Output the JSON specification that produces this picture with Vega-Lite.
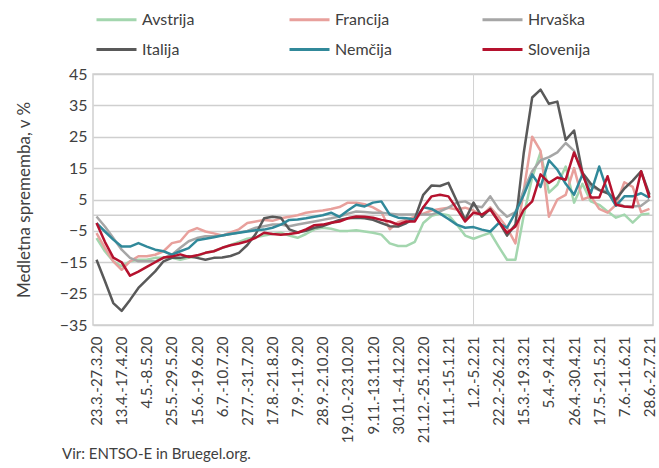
{
"$schema":"https://vega.github.io/schema/vega-lite/v6.json",
"width":560,"height":251,
"autosize":{"type":"none"},
"padding":{"left":93,"top":74,"right":6,"bottom":143},
"background":"white",
"config":{"font":"Lato","view":{"stroke":"#cfcfcf","strokeWidth":1.5}},
"title":{"text":"Vir: ENTSO-E in Bruegel.org.","orient":"bottom","anchor":"start","frame":"group","dx":-31,"offset":4,"fontSize":15,"fontWeight":"normal","color":"#404040"},
"data":{"values":[
{"w":"23.3.-27.3.20","s":"Avstrija","v":-7.3},{"w":"30.3.-3.4.20","s":"Avstrija","v":-11.5},{"w":"6.4.-10.4.20","s":"Avstrija","v":-14.7},{"w":"13.4.-17.4.20","s":"Avstrija","v":-16.3},{"w":"20.4.-24.4.20","s":"Avstrija","v":-14.7},{"w":"27.4.-1.5.20","s":"Avstrija","v":-14.2},{"w":"4.5.-8.5.20","s":"Avstrija","v":-14.2},{"w":"11.5.-15.5.20","s":"Avstrija","v":-13.6},{"w":"18.5.-22.5.20","s":"Avstrija","v":-13.6},{"w":"25.5.-29.5.20","s":"Avstrija","v":-13.6},
{"w":"1.6.-5.6.20","s":"Avstrija","v":-14.2},{"w":"8.6.-12.6.20","s":"Avstrija","v":-13.6},{"w":"15.6.-19.6.20","s":"Avstrija","v":-13.1},{"w":"22.6.-26.6.20","s":"Avstrija","v":-12},{"w":"29.6.-3.7.20","s":"Avstrija","v":-11.5},{"w":"6.7.-10.7.20","s":"Avstrija","v":-10.4},{"w":"13.7.-17.7.20","s":"Avstrija","v":-9.5},{"w":"20.7.-24.7.20","s":"Avstrija","v":-8.5},{"w":"27.7.-31.7.20","s":"Avstrija","v":-7.5},{"w":"3.8.-7.8.20","s":"Avstrija","v":-7},
{"w":"10.8.-14.8.20","s":"Avstrija","v":-6.5},{"w":"17.8.-21.8.20","s":"Avstrija","v":-6},{"w":"24.8.-28.8.20","s":"Avstrija","v":-5.6},{"w":"31.8.-4.9.20","s":"Avstrija","v":-6.5},{"w":"7.9.-11.9.20","s":"Avstrija","v":-7.2},{"w":"14.9.-18.9.20","s":"Avstrija","v":-6},{"w":"21.9.-25.9.20","s":"Avstrija","v":-4.5},{"w":"28.9.-2.10.20","s":"Avstrija","v":-4},{"w":"5.10.-9.10.20","s":"Avstrija","v":-4.3},{"w":"12.10.-16.10.20","s":"Avstrija","v":-5},
{"w":"19.10.-23.10.20","s":"Avstrija","v":-5},{"w":"26.10.-30.10.20","s":"Avstrija","v":-4.8},{"w":"2.11.-6.11.20","s":"Avstrija","v":-5.2},{"w":"9.11.-13.11.20","s":"Avstrija","v":-5.6},{"w":"16.11.-20.11.20","s":"Avstrija","v":-6.2},{"w":"23.11.-27.11.20","s":"Avstrija","v":-9},{"w":"30.11.-4.12.20","s":"Avstrija","v":-9.8},{"w":"7.12.-11.12.20","s":"Avstrija","v":-9.8},{"w":"14.12.-18.12.20","s":"Avstrija","v":-8.5},{"w":"21.12.-25.12.20","s":"Avstrija","v":-2.5},
{"w":"28.12.-1.1.21","s":"Avstrija","v":-0.2},{"w":"4.1.-8.1.21","s":"Avstrija","v":0.5},{"w":"11.1.-15.1.21","s":"Avstrija","v":0},{"w":"18.1.-22.1.21","s":"Avstrija","v":-3},{"w":"25.1.-29.1.21","s":"Avstrija","v":-6.5},{"w":"1.2.-5.2.21","s":"Avstrija","v":-7.5},{"w":"8.2.-12.2.21","s":"Avstrija","v":-6.5},{"w":"15.2.-19.2.21","s":"Avstrija","v":-5.6},{"w":"22.2.-26.2.21","s":"Avstrija","v":-10},{"w":"1.3.-5.3.21","s":"Avstrija","v":-14.2},
{"w":"8.3.-12.3.21","s":"Avstrija","v":-14.2},{"w":"15.3.-19.3.21","s":"Avstrija","v":0},{"w":"22.3.-26.3.21","s":"Avstrija","v":12},{"w":"29.3.-2.4.21","s":"Avstrija","v":20},{"w":"5.4.-9.4.21","s":"Avstrija","v":7.2},{"w":"12.4.-16.4.21","s":"Avstrija","v":9.7},{"w":"19.4.-23.4.21","s":"Avstrija","v":15.5},{"w":"26.4.-30.4.21","s":"Avstrija","v":4},{"w":"3.5.-7.5.21","s":"Avstrija","v":10},{"w":"10.5.-14.5.21","s":"Avstrija","v":4.4},
{"w":"17.5.-21.5.21","s":"Avstrija","v":3.3},{"w":"24.5.-28.5.21","s":"Avstrija","v":1.2},{"w":"31.5.-4.6.21","s":"Avstrija","v":-0.8},{"w":"7.6.-11.6.21","s":"Avstrija","v":0.2},{"w":"14.6.-18.6.21","s":"Avstrija","v":-2.4},{"w":"21.6.-25.6.21","s":"Avstrija","v":0.2},{"w":"28.6.-2.7.21","s":"Avstrija","v":0.5},

{"w":"23.3.-27.3.20","s":"Francija","v":-5.7},{"w":"30.3.-3.4.20","s":"Francija","v":-10.4},{"w":"6.4.-10.4.20","s":"Francija","v":-14.7},{"w":"13.4.-17.4.20","s":"Francija","v":-17.4},{"w":"20.4.-24.4.20","s":"Francija","v":-14.7},{"w":"27.4.-1.5.20","s":"Francija","v":-13.1},{"w":"4.5.-8.5.20","s":"Francija","v":-13.1},{"w":"11.5.-15.5.20","s":"Francija","v":-12.6},{"w":"18.5.-22.5.20","s":"Francija","v":-11.5},{"w":"25.5.-29.5.20","s":"Francija","v":-8.9},
{"w":"1.6.-5.6.20","s":"Francija","v":-8.3},{"w":"8.6.-12.6.20","s":"Francija","v":-5.2},{"w":"15.6.-19.6.20","s":"Francija","v":-4.1},{"w":"22.6.-26.6.20","s":"Francija","v":-5.2},{"w":"29.6.-3.7.20","s":"Francija","v":-5.8},{"w":"6.7.-10.7.20","s":"Francija","v":-6.5},{"w":"13.7.-17.7.20","s":"Francija","v":-5.5},{"w":"20.7.-24.7.20","s":"Francija","v":-4.5},{"w":"27.7.-31.7.20","s":"Francija","v":-2.5},{"w":"3.8.-7.8.20","s":"Francija","v":-2},
{"w":"10.8.-14.8.20","s":"Francija","v":-1.5},{"w":"17.8.-21.8.20","s":"Francija","v":-1.8},{"w":"24.8.-28.8.20","s":"Francija","v":-1},{"w":"31.8.-4.9.20","s":"Francija","v":-0.5},{"w":"7.9.-11.9.20","s":"Francija","v":0},{"w":"14.9.-18.9.20","s":"Francija","v":0.8},{"w":"21.9.-25.9.20","s":"Francija","v":1.2},{"w":"28.9.-2.10.20","s":"Francija","v":1.5},{"w":"5.10.-9.10.20","s":"Francija","v":2},{"w":"12.10.-16.10.20","s":"Francija","v":2.6},
{"w":"19.10.-23.10.20","s":"Francija","v":4},{"w":"26.10.-30.10.20","s":"Francija","v":4},{"w":"2.11.-6.11.20","s":"Francija","v":3.5},{"w":"9.11.-13.11.20","s":"Francija","v":2.5},{"w":"16.11.-20.11.20","s":"Francija","v":1},{"w":"23.11.-27.11.20","s":"Francija","v":-4.5},{"w":"30.11.-4.12.20","s":"Francija","v":-2.2},{"w":"7.12.-11.12.20","s":"Francija","v":-1.4},{"w":"14.12.-18.12.20","s":"Francija","v":-0.5},{"w":"21.12.-25.12.20","s":"Francija","v":0.5},
{"w":"28.12.-1.1.21","s":"Francija","v":1.5},{"w":"4.1.-8.1.21","s":"Francija","v":2},{"w":"11.1.-15.1.21","s":"Francija","v":2.4},{"w":"18.1.-22.1.21","s":"Francija","v":1.8},{"w":"25.1.-29.1.21","s":"Francija","v":2.4},{"w":"1.2.-5.2.21","s":"Francija","v":1.5},{"w":"8.2.-12.2.21","s":"Francija","v":0},{"w":"15.2.-19.2.21","s":"Francija","v":2.5},{"w":"22.2.-26.2.21","s":"Francija","v":-0.5},{"w":"1.3.-5.3.21","s":"Francija","v":-4},
{"w":"8.3.-12.3.21","s":"Francija","v":-9},{"w":"15.3.-19.3.21","s":"Francija","v":8},{"w":"22.3.-26.3.21","s":"Francija","v":25},{"w":"29.3.-2.4.21","s":"Francija","v":20.5},{"w":"5.4.-9.4.21","s":"Francija","v":-0.5},{"w":"12.4.-16.4.21","s":"Francija","v":5},{"w":"19.4.-23.4.21","s":"Francija","v":6.5},{"w":"26.4.-30.4.21","s":"Francija","v":15},{"w":"3.5.-7.5.21","s":"Francija","v":5},{"w":"10.5.-14.5.21","s":"Francija","v":6},
{"w":"17.5.-21.5.21","s":"Francija","v":2},{"w":"24.5.-28.5.21","s":"Francija","v":0.8},{"w":"31.5.-4.6.21","s":"Francija","v":3.3},{"w":"7.6.-11.6.21","s":"Francija","v":10.5},{"w":"14.6.-18.6.21","s":"Francija","v":9},{"w":"21.6.-25.6.21","s":"Francija","v":1},{"w":"28.6.-2.7.21","s":"Francija","v":2},

{"w":"23.3.-27.3.20","s":"Hrvaška","v":-0.4},{"w":"30.3.-3.4.20","s":"Hrvaška","v":-3.6},{"w":"6.4.-10.4.20","s":"Hrvaška","v":-7.3},{"w":"13.4.-17.4.20","s":"Hrvaška","v":-11},{"w":"20.4.-24.4.20","s":"Hrvaška","v":-13.6},{"w":"27.4.-1.5.20","s":"Hrvaška","v":-14.7},{"w":"4.5.-8.5.20","s":"Hrvaška","v":-14.7},{"w":"11.5.-15.5.20","s":"Hrvaška","v":-14.7},{"w":"18.5.-22.5.20","s":"Hrvaška","v":-13.6},{"w":"25.5.-29.5.20","s":"Hrvaška","v":-12.6},
{"w":"1.6.-5.6.20","s":"Hrvaška","v":-10.4},{"w":"8.6.-12.6.20","s":"Hrvaška","v":-8.3},{"w":"15.6.-19.6.20","s":"Hrvaška","v":-7.3},{"w":"22.6.-26.6.20","s":"Hrvaška","v":-6.7},{"w":"29.6.-3.7.20","s":"Hrvaška","v":-6.7},{"w":"6.7.-10.7.20","s":"Hrvaška","v":-6.5},{"w":"13.7.-17.7.20","s":"Hrvaška","v":-6},{"w":"20.7.-24.7.20","s":"Hrvaška","v":-5.5},{"w":"27.7.-31.7.20","s":"Hrvaška","v":-5},{"w":"3.8.-7.8.20","s":"Hrvaška","v":-4},
{"w":"10.8.-14.8.20","s":"Hrvaška","v":-3.5},{"w":"17.8.-21.8.20","s":"Hrvaška","v":-3},{"w":"24.8.-28.8.20","s":"Hrvaška","v":-3},{"w":"31.8.-4.9.20","s":"Hrvaška","v":-3.5},{"w":"7.9.-11.9.20","s":"Hrvaška","v":-3},{"w":"14.9.-18.9.20","s":"Hrvaška","v":-2.5},{"w":"21.9.-25.9.20","s":"Hrvaška","v":-2},{"w":"28.9.-2.10.20","s":"Hrvaška","v":-1.5},{"w":"5.10.-9.10.20","s":"Hrvaška","v":-1},{"w":"12.10.-16.10.20","s":"Hrvaška","v":-0.4},
{"w":"19.10.-23.10.20","s":"Hrvaška","v":0.5},{"w":"26.10.-30.10.20","s":"Hrvaška","v":1.2},{"w":"2.11.-6.11.20","s":"Hrvaška","v":1},{"w":"9.11.-13.11.20","s":"Hrvaška","v":0.8},{"w":"16.11.-20.11.20","s":"Hrvaška","v":0.8},{"w":"23.11.-27.11.20","s":"Hrvaška","v":0.5},{"w":"30.11.-4.12.20","s":"Hrvaška","v":0.2},{"w":"7.12.-11.12.20","s":"Hrvaška","v":0.2},{"w":"14.12.-18.12.20","s":"Hrvaška","v":0.2},{"w":"21.12.-25.12.20","s":"Hrvaška","v":0.2},
{"w":"28.12.-1.1.21","s":"Hrvaška","v":0.2},{"w":"4.1.-8.1.21","s":"Hrvaška","v":1.2},{"w":"11.1.-15.1.21","s":"Hrvaška","v":2.4},{"w":"18.1.-22.1.21","s":"Hrvaška","v":4},{"w":"25.1.-29.1.21","s":"Hrvaška","v":4.4},{"w":"1.2.-5.2.21","s":"Hrvaška","v":3},{"w":"8.2.-12.2.21","s":"Hrvaška","v":2.5},{"w":"15.2.-19.2.21","s":"Hrvaška","v":6},{"w":"22.2.-26.2.21","s":"Hrvaška","v":2},{"w":"1.3.-5.3.21","s":"Hrvaška","v":-0.5},
{"w":"8.3.-12.3.21","s":"Hrvaška","v":1},{"w":"15.3.-19.3.21","s":"Hrvaška","v":8},{"w":"22.3.-26.3.21","s":"Hrvaška","v":14},{"w":"29.3.-2.4.21","s":"Hrvaška","v":17.5},{"w":"5.4.-9.4.21","s":"Hrvaška","v":18.5},{"w":"12.4.-16.4.21","s":"Hrvaška","v":20},{"w":"19.4.-23.4.21","s":"Hrvaška","v":23},{"w":"26.4.-30.4.21","s":"Hrvaška","v":20.5},{"w":"3.5.-7.5.21","s":"Hrvaška","v":12.5},{"w":"10.5.-14.5.21","s":"Hrvaška","v":9.2},
{"w":"17.5.-21.5.21","s":"Hrvaška","v":8},{"w":"24.5.-28.5.21","s":"Hrvaška","v":7.6},{"w":"31.5.-4.6.21","s":"Hrvaška","v":4},{"w":"7.6.-11.6.21","s":"Hrvaška","v":2.8},{"w":"14.6.-18.6.21","s":"Hrvaška","v":2.8},{"w":"21.6.-25.6.21","s":"Hrvaška","v":3},{"w":"28.6.-2.7.21","s":"Hrvaška","v":5},

{"w":"23.3.-27.3.20","s":"Italija","v":-14.2},{"w":"30.3.-3.4.20","s":"Italija","v":-21},{"w":"6.4.-10.4.20","s":"Italija","v":-28},{"w":"13.4.-17.4.20","s":"Italija","v":-30.5},{"w":"20.4.-24.4.20","s":"Italija","v":-27},{"w":"27.4.-1.5.20","s":"Italija","v":-23.2},{"w":"4.5.-8.5.20","s":"Italija","v":-20.5},{"w":"11.5.-15.5.20","s":"Italija","v":-17.9},{"w":"18.5.-22.5.20","s":"Italija","v":-14.7},{"w":"25.5.-29.5.20","s":"Italija","v":-13.6},
{"w":"1.6.-5.6.20","s":"Italija","v":-13.6},{"w":"8.6.-12.6.20","s":"Italija","v":-13.1},{"w":"15.6.-19.6.20","s":"Italija","v":-13.6},{"w":"22.6.-26.6.20","s":"Italija","v":-14.2},{"w":"29.6.-3.7.20","s":"Italija","v":-13.6},{"w":"6.7.-10.7.20","s":"Italija","v":-13.5},{"w":"13.7.-17.7.20","s":"Italija","v":-13},{"w":"20.7.-24.7.20","s":"Italija","v":-12},{"w":"27.7.-31.7.20","s":"Italija","v":-9.5},{"w":"3.8.-7.8.20","s":"Italija","v":-6},
{"w":"10.8.-14.8.20","s":"Italija","v":-1},{"w":"17.8.-21.8.20","s":"Italija","v":-0.5},{"w":"24.8.-28.8.20","s":"Italija","v":-0.8},{"w":"31.8.-4.9.20","s":"Italija","v":-4.5},{"w":"7.9.-11.9.20","s":"Italija","v":-5.5},{"w":"14.9.-18.9.20","s":"Italija","v":-5},{"w":"21.9.-25.9.20","s":"Italija","v":-4},{"w":"28.9.-2.10.20","s":"Italija","v":-3.5},{"w":"5.10.-9.10.20","s":"Italija","v":-2.5},{"w":"12.10.-16.10.20","s":"Italija","v":-1.5},
{"w":"19.10.-23.10.20","s":"Italija","v":-1},{"w":"26.10.-30.10.20","s":"Italija","v":-0.8},{"w":"2.11.-6.11.20","s":"Italija","v":-1},{"w":"9.11.-13.11.20","s":"Italija","v":-1.5},{"w":"16.11.-20.11.20","s":"Italija","v":-2.5},{"w":"23.11.-27.11.20","s":"Italija","v":-3.5},{"w":"30.11.-4.12.20","s":"Italija","v":-3.6},{"w":"7.12.-11.12.20","s":"Italija","v":-2.5},{"w":"14.12.-18.12.20","s":"Italija","v":-1},{"w":"21.12.-25.12.20","s":"Italija","v":6.5},
{"w":"28.12.-1.1.21","s":"Italija","v":9.5},{"w":"4.1.-8.1.21","s":"Italija","v":9.3},{"w":"11.1.-15.1.21","s":"Italija","v":10.3},{"w":"18.1.-22.1.21","s":"Italija","v":4.5},{"w":"25.1.-29.1.21","s":"Italija","v":-1.5},{"w":"1.2.-5.2.21","s":"Italija","v":4},{"w":"8.2.-12.2.21","s":"Italija","v":-0.5},{"w":"15.2.-19.2.21","s":"Italija","v":2},{"w":"22.2.-26.2.21","s":"Italija","v":-2},{"w":"1.3.-5.3.21","s":"Italija","v":-6.5},
{"w":"8.3.-12.3.21","s":"Italija","v":-3},{"w":"15.3.-19.3.21","s":"Italija","v":20},{"w":"22.3.-26.3.21","s":"Italija","v":37.5},{"w":"29.3.-2.4.21","s":"Italija","v":40},{"w":"5.4.-9.4.21","s":"Italija","v":35.5},{"w":"12.4.-16.4.21","s":"Italija","v":36.2},{"w":"19.4.-23.4.21","s":"Italija","v":24},{"w":"26.4.-30.4.21","s":"Italija","v":27},{"w":"3.5.-7.5.21","s":"Italija","v":13.5},{"w":"10.5.-14.5.21","s":"Italija","v":10},
{"w":"17.5.-21.5.21","s":"Italija","v":8},{"w":"24.5.-28.5.21","s":"Italija","v":7},{"w":"31.5.-4.6.21","s":"Italija","v":5},{"w":"7.6.-11.6.21","s":"Italija","v":8.5},{"w":"14.6.-18.6.21","s":"Italija","v":11},{"w":"21.6.-25.6.21","s":"Italija","v":14},{"w":"28.6.-2.7.21","s":"Italija","v":6.5},

{"w":"23.3.-27.3.20","s":"Nemčija","v":-2.5},{"w":"30.3.-3.4.20","s":"Nemčija","v":-5.2},{"w":"6.4.-10.4.20","s":"Nemčija","v":-7.8},{"w":"13.4.-17.4.20","s":"Nemčija","v":-10},{"w":"20.4.-24.4.20","s":"Nemčija","v":-10},{"w":"27.4.-1.5.20","s":"Nemčija","v":-8.9},{"w":"4.5.-8.5.20","s":"Nemčija","v":-10},{"w":"11.5.-15.5.20","s":"Nemčija","v":-11},{"w":"18.5.-22.5.20","s":"Nemčija","v":-11.5},{"w":"25.5.-29.5.20","s":"Nemčija","v":-12.6},
{"w":"1.6.-5.6.20","s":"Nemčija","v":-11.5},{"w":"8.6.-12.6.20","s":"Nemčija","v":-10.5},{"w":"15.6.-19.6.20","s":"Nemčija","v":-8},{"w":"22.6.-26.6.20","s":"Nemčija","v":-7.5},{"w":"29.6.-3.7.20","s":"Nemčija","v":-7},{"w":"6.7.-10.7.20","s":"Nemčija","v":-6.5},{"w":"13.7.-17.7.20","s":"Nemčija","v":-6},{"w":"20.7.-24.7.20","s":"Nemčija","v":-5.6},{"w":"27.7.-31.7.20","s":"Nemčija","v":-5.2},{"w":"3.8.-7.8.20","s":"Nemčija","v":-4.8},
{"w":"10.8.-14.8.20","s":"Nemčija","v":-4.6},{"w":"17.8.-21.8.20","s":"Nemčija","v":-4},{"w":"24.8.-28.8.20","s":"Nemčija","v":-3},{"w":"31.8.-4.9.20","s":"Nemčija","v":-1.5},{"w":"7.9.-11.9.20","s":"Nemčija","v":-1.4},{"w":"14.9.-18.9.20","s":"Nemčija","v":-1},{"w":"21.9.-25.9.20","s":"Nemčija","v":-0.5},{"w":"28.9.-2.10.20","s":"Nemčija","v":0},{"w":"5.10.-9.10.20","s":"Nemčija","v":0.8},{"w":"12.10.-16.10.20","s":"Nemčija","v":-0.5},
{"w":"19.10.-23.10.20","s":"Nemčija","v":1.5},{"w":"26.10.-30.10.20","s":"Nemčija","v":3.3},{"w":"2.11.-6.11.20","s":"Nemčija","v":2.8},{"w":"9.11.-13.11.20","s":"Nemčija","v":4},{"w":"16.11.-20.11.20","s":"Nemčija","v":4.4},{"w":"23.11.-27.11.20","s":"Nemčija","v":0.2},{"w":"30.11.-4.12.20","s":"Nemčija","v":-0.8},{"w":"7.12.-11.12.20","s":"Nemčija","v":-1},{"w":"14.12.-18.12.20","s":"Nemčija","v":-1.4},{"w":"21.12.-25.12.20","s":"Nemčija","v":2.5},
{"w":"28.12.-1.1.21","s":"Nemčija","v":2},{"w":"4.1.-8.1.21","s":"Nemčija","v":0.5},{"w":"11.1.-15.1.21","s":"Nemčija","v":-1.2},{"w":"18.1.-22.1.21","s":"Nemčija","v":-3},{"w":"25.1.-29.1.21","s":"Nemčija","v":-4},{"w":"1.2.-5.2.21","s":"Nemčija","v":-3.8},{"w":"8.2.-12.2.21","s":"Nemčija","v":-4.6},{"w":"15.2.-19.2.21","s":"Nemčija","v":-5.2},{"w":"22.2.-26.2.21","s":"Nemčija","v":-2.5},{"w":"1.3.-5.3.21","s":"Nemčija","v":-4},
{"w":"8.3.-12.3.21","s":"Nemčija","v":0.8},{"w":"15.3.-19.3.21","s":"Nemčija","v":6.5},{"w":"22.3.-26.3.21","s":"Nemčija","v":13},{"w":"29.3.-2.4.21","s":"Nemčija","v":9},{"w":"5.4.-9.4.21","s":"Nemčija","v":17.5},{"w":"12.4.-16.4.21","s":"Nemčija","v":14.5},{"w":"19.4.-23.4.21","s":"Nemčija","v":10},{"w":"26.4.-30.4.21","s":"Nemčija","v":6.5},{"w":"3.5.-7.5.21","s":"Nemčija","v":13},{"w":"10.5.-14.5.21","s":"Nemčija","v":7},
{"w":"17.5.-21.5.21","s":"Nemčija","v":15.5},{"w":"24.5.-28.5.21","s":"Nemčija","v":7.5},{"w":"31.5.-4.6.21","s":"Nemčija","v":3},{"w":"7.6.-11.6.21","s":"Nemčija","v":6},{"w":"14.6.-18.6.21","s":"Nemčija","v":6},{"w":"21.6.-25.6.21","s":"Nemčija","v":7},{"w":"28.6.-2.7.21","s":"Nemčija","v":5.5},

{"w":"23.3.-27.3.20","s":"Slovenija","v":-2.5},{"w":"30.3.-3.4.20","s":"Slovenija","v":-8.5},{"w":"6.4.-10.4.20","s":"Slovenija","v":-13.5},{"w":"13.4.-17.4.20","s":"Slovenija","v":-15},{"w":"20.4.-24.4.20","s":"Slovenija","v":-19.3},{"w":"27.4.-1.5.20","s":"Slovenija","v":-18},{"w":"4.5.-8.5.20","s":"Slovenija","v":-16.5},{"w":"11.5.-15.5.20","s":"Slovenija","v":-15},{"w":"18.5.-22.5.20","s":"Slovenija","v":-13.5},{"w":"25.5.-29.5.20","s":"Slovenija","v":-13.2},
{"w":"1.6.-5.6.20","s":"Slovenija","v":-12.5},{"w":"8.6.-12.6.20","s":"Slovenija","v":-13.3},{"w":"15.6.-19.6.20","s":"Slovenija","v":-12.8},{"w":"22.6.-26.6.20","s":"Slovenija","v":-12},{"w":"29.6.-3.7.20","s":"Slovenija","v":-11.5},{"w":"6.7.-10.7.20","s":"Slovenija","v":-10.4},{"w":"13.7.-17.7.20","s":"Slovenija","v":-9.6},{"w":"20.7.-24.7.20","s":"Slovenija","v":-9},{"w":"27.7.-31.7.20","s":"Slovenija","v":-8.3},{"w":"3.8.-7.8.20","s":"Slovenija","v":-7.2},
{"w":"10.8.-14.8.20","s":"Slovenija","v":-5.6},{"w":"17.8.-21.8.20","s":"Slovenija","v":-6},{"w":"24.8.-28.8.20","s":"Slovenija","v":-6.2},{"w":"31.8.-4.9.20","s":"Slovenija","v":-6},{"w":"7.9.-11.9.20","s":"Slovenija","v":-5.6},{"w":"14.9.-18.9.20","s":"Slovenija","v":-4.5},{"w":"21.9.-25.9.20","s":"Slovenija","v":-3.2},{"w":"28.9.-2.10.20","s":"Slovenija","v":-3},{"w":"5.10.-9.10.20","s":"Slovenija","v":-2.4},{"w":"12.10.-16.10.20","s":"Slovenija","v":-2},
{"w":"19.10.-23.10.20","s":"Slovenija","v":-1},{"w":"26.10.-30.10.20","s":"Slovenija","v":-0.4},{"w":"2.11.-6.11.20","s":"Slovenija","v":-0.5},{"w":"9.11.-13.11.20","s":"Slovenija","v":-0.8},{"w":"16.11.-20.11.20","s":"Slovenija","v":-1.5},{"w":"23.11.-27.11.20","s":"Slovenija","v":-2},{"w":"30.11.-4.12.20","s":"Slovenija","v":-3},{"w":"7.12.-11.12.20","s":"Slovenija","v":-2},{"w":"14.12.-18.12.20","s":"Slovenija","v":-2},{"w":"21.12.-25.12.20","s":"Slovenija","v":2.5},
{"w":"28.12.-1.1.21","s":"Slovenija","v":6},{"w":"4.1.-8.1.21","s":"Slovenija","v":6.5},{"w":"11.1.-15.1.21","s":"Slovenija","v":6},{"w":"18.1.-22.1.21","s":"Slovenija","v":2},{"w":"25.1.-29.1.21","s":"Slovenija","v":-2},{"w":"1.2.-5.2.21","s":"Slovenija","v":0.8},{"w":"8.2.-12.2.21","s":"Slovenija","v":0.2},{"w":"15.2.-19.2.21","s":"Slovenija","v":1.8},{"w":"22.2.-26.2.21","s":"Slovenija","v":-2},{"w":"1.3.-5.3.21","s":"Slovenija","v":-5.6},
{"w":"8.3.-12.3.21","s":"Slovenija","v":-3.6},{"w":"15.3.-19.3.21","s":"Slovenija","v":1.8},{"w":"22.3.-26.3.21","s":"Slovenija","v":4.4},{"w":"29.3.-2.4.21","s":"Slovenija","v":13},{"w":"5.4.-9.4.21","s":"Slovenija","v":10.3},{"w":"12.4.-16.4.21","s":"Slovenija","v":12},{"w":"19.4.-23.4.21","s":"Slovenija","v":11.3},{"w":"26.4.-30.4.21","s":"Slovenija","v":20},{"w":"3.5.-7.5.21","s":"Slovenija","v":13.5},{"w":"10.5.-14.5.21","s":"Slovenija","v":5.6},
{"w":"17.5.-21.5.21","s":"Slovenija","v":5.6},{"w":"24.5.-28.5.21","s":"Slovenija","v":12.4},{"w":"31.5.-4.6.21","s":"Slovenija","v":3.3},{"w":"7.6.-11.6.21","s":"Slovenija","v":2.8},{"w":"14.6.-18.6.21","s":"Slovenija","v":2.5},{"w":"21.6.-25.6.21","s":"Slovenija","v":14},{"w":"28.6.-2.7.21","s":"Slovenija","v":5.6}
]},
"encoding":{
 "x":{"field":"w","type":"ordinal","sort":null,"scale":{"type":"point","padding":0.42},
  "axis":{"values":["23.3.-27.3.20","13.4.-17.4.20","4.5.-8.5.20","25.5.-29.5.20","15.6.-19.6.20","6.7.-10.7.20","27.7.-31.7.20","17.8.-21.8.20","7.9.-11.9.20","28.9.-2.10.20","19.10.-23.10.20","9.11.-13.11.20","30.11.-4.12.20","21.12.-25.12.20","11.1.-15.1.21","1.2.-5.2.21","22.2.-26.2.21","15.3.-19.3.21","5.4.-9.4.21","26.4.-30.4.21","17.5.-21.5.21","7.6.-11.6.21","28.6.-2.7.21"],
   "labelAngle":-90,"labelFontSize":15,"labelColor":"#404040","labelPadding":11,"ticks":false,"domain":false,"grid":false,"title":null}},
 "y":{"field":"v","type":"quantitative","scale":{"domain":[-35,45],"nice":false,"zero":false},
  "axis":{"values":[-35,-25,-15,-5,5,15,25,35,45],"grid":true,"gridColor":"#cfcfcf","gridWidth":1.5,"domain":false,"ticks":false,"labelFontSize":16,"labelColor":"#404040","labelPadding":6,"title":"Medletna sprememba, v %","titleFontSize":17,"titleFontWeight":"normal","titleColor":"#404040","titlePadding":26}}
},
"layer":[
 {"transform":[{"filter":"datum.w === '23.3.-27.3.20' && datum.s === 'Avstrija'"}],"mark":{"type":"rule","color":"#cfcfcf","strokeWidth":1.5},"encoding":{"x":null,"y":{"datum":0,"type":"quantitative"}}},
 {"mark":{"type":"rule","color":"#d2d2d2","strokeWidth":1},"encoding":{"y":null,"strokeOpacity":{"condition":{"test":"datum.w === '1.2.-5.2.21' && datum.s === 'Avstrija'","value":1},"value":0}}},
 {"mark":{"type":"line","strokeWidth":2.5,"strokeJoin":"round"},
  "encoding":{"color":{"field":"s","type":"nominal",
   "scale":{"domain":["Avstrija","Francija","Hrvaška","Italija","Nemčija","Slovenija"],"range":["#a3d6ae","#e8a09c","#a6a6a6","#595959","#31899a","#b5122e"]},
   "legend":{"orient":"none","legendX":2,"legendY":-76,"direction":"horizontal","columns":3,"title":null,"symbolType":"stroke","symbolSize":1600,"symbolStrokeWidth":3,"labelFontSize":16,"labelColor":"#404040","labelOffset":4,"columnPadding":78,"rowPadding":-16,"gridAlign":"all"}}}}
]
}
